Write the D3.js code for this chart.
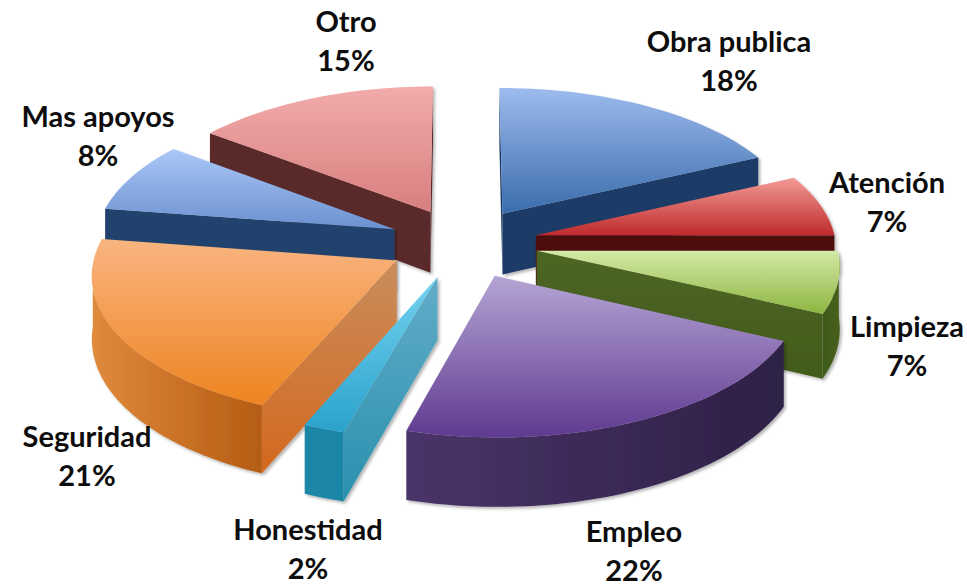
<!DOCTYPE html>
<html>
    <head>
        <title>Pastel 3D</title>
        <meta charset="UTF-8" />
        <script src="https://cdn.jsdelivr.net/npm/d3@7/dist/d3.min.js"></script>
        <style>
            html, body { margin: 0; padding: 0; background: #fff; }
            svg { display: block; }
            text { font-family: Lato, "Open Sans", sans-serif; font-weight: 700; font-size: 29px; fill: #0d0d0d; text-anchor: middle; }
        </style>
    </head>
    <body>
        <svg id="chart" width="967" height="584"></svg>
        <script>
            var categories = ["Obra publica", "Atención", "Limpieza", "Empleo", "Honestidad", "Seguridad", "Mas apoyos", "Otro"]
            // the labels round them
            var values = [18, 7, 7, 22.4, 2, 21, 8, 14.6]

            var topLight = ["#9dbbee", "#f29a95", "#d2eaa6", "#b5a4d4", "#74d2f0", "#f9b480", "#aac7f6", "#f3abab"]
            var topDark = ["#3a6cac", "#bf2a2b", "#8db540", "#5f3a90", "#2aa2cc", "#ee8420", "#6b91d0", "#d87f7f"]
            var wallLight = ["#1d3b66", "#4e1010", "#4c6623", "#3a2a58", "#62adc8", "#c98d5c", "#24426e", "#5a2a2a"]
            var wallDark = ["#1d3b66", "#4e1010", "#425b1d", "#3a2a58", "#2a90ae", "#d4681f", "#24426e", "#5a2a2a"]
            var rimLeft = ["#1d3b66", "#4e1010", "#3f5a1c", "#4a3468", "#1f86a6", "#e08a3c", "#24426e", "#5a2a2a"]
            var rimRight = ["#1d3b66", "#4e1010", "#47601f", "#2e2046", "#1f86a6", "#b45c12", "#24426e", "#5a2a2a"]

            // label centres, same order as categories
            var labelX = [729, 887, 907, 634, 308, 87, 98, 346]
            var labelY = [42, 183, 327, 532, 530, 437, 117, 22]

            var cx = 463, cy = 243
            var explode = 0.25
            var tilt = 0.087
            var thick = 62

            var xScale = d3.scaleLinear().domain([-1, 1]).range([cx - 300, cx + 300])
            var yScale = d3.scaleLinear().domain([-1, 1]).range([cy - 141.5, cy + 141.5])

            var svg = d3.select("#chart")
            var defs = svg.append("defs")

            var shadow = defs.append("filter").attr("id", "soft")
                .attr("x", "-10%").attr("y", "-10%").attr("width", "120%").attr("height", "120%")
            shadow.append("feDropShadow")
                .attr("dx", 2).attr("dy", 2).attr("stdDeviation", 1.6)
                .attr("flood-color", "#000").attr("flood-opacity", 0.3)

            function gradient(id, c1, c2, horizontal) {
                var g = defs.append("linearGradient").attr("id", id)
                    .attr("x1", 0).attr("y1", 0)
                    .attr("x2", horizontal ? 1 : 0).attr("y2", horizontal ? 0 : 1)
                g.append("stop").attr("offset", "0%").attr("stop-color", c1)
                g.append("stop").attr("offset", "100%").attr("stop-color", c2)
            }

            // pie plane to screen, v grows towards the viewer
            function project(u, v, z) {
                var s = 1 / (1 - tilt * v)
                return [xScale(u * s), yScale(v * s) + z * thick * s]
            }

            var pie = d3.pie().sort(null).value(d => d)
            var arcs = pie(values).map((d, i) => {
                var mid = (d.startAngle + d.endAngle) / 2
                return {
                    i: i,
                    a0: d.startAngle,
                    a1: d.endAngle,
                    ou: Math.sin(mid) * explode,
                    ov: -Math.cos(mid) * explode,
                    depth: -Math.cos(mid)
                }
            })

            function rimAngles(a0, a1) {
                var n = Math.max(2, Math.ceil((a1 - a0) / 0.03))
                return d3.range(n + 1).map(k => a0 + (a1 - a0) * k / n)
            }

            var line = d3.line()

            function drawSlice(d) {
                var g = svg.append("g").attr("filter", "url(#soft)")
                var id = "s" + d.i
                gradient(id + "top", topLight[d.i], topDark[d.i], false)
                gradient(id + "wall", wallLight[d.i], wallDark[d.i], false)
                gradient(id + "rim", rimLeft[d.i], rimRight[d.i], true)

                var point = (a, z) => project(d.ou + Math.sin(a), d.ov - Math.cos(a), z)
                var apex = z => project(d.ou, d.ov, z)

                // radial walls, only the ones turned to the viewer
                var walls = [[apex, z => point(d.a0, z)], [z => point(d.a1, z), apex]]
                walls.forEach(w => {
                    if (w[1](0)[0] < w[0](0)[0]) {
                        g.append("path")
                            .attr("d", line([w[0](0), w[1](0), w[1](1), w[0](1)]) + "Z")
                            .attr("fill", "url(#" + id + "wall)")
                    }
                })

                // outer wall, front half only
                var front = rimAngles(d.a0, d.a1).filter(a => Math.cos(a) <= 0)
                if (front.length > 1) {
                    var rim = front.map(a => point(a, 0)).concat(front.slice().reverse().map(a => point(a, 1)))
                    g.append("path")
                        .attr("d", line(rim) + "Z")
                        .attr("fill", "url(#" + id + "rim)")
                }

                // top face
                var face = [apex(0)].concat(rimAngles(d.a0, d.a1).map(a => point(a, 0)))
                g.append("path")
                    .attr("d", line(face) + "Z")
                    .attr("fill", "url(#" + id + "top)")
            }

            arcs.slice().sort((a, b) => a.depth - b.depth).forEach(drawSlice)

            categories.forEach((name, i) => {
                svg.append("text").attr("x", labelX[i]).attr("y", labelY[i] + 10).text(name)
                svg.append("text").attr("x", labelX[i]).attr("y", labelY[i] + 49).text(Math.round(values[i]) + "%")
            })
        </script>
    </body>
</html>
